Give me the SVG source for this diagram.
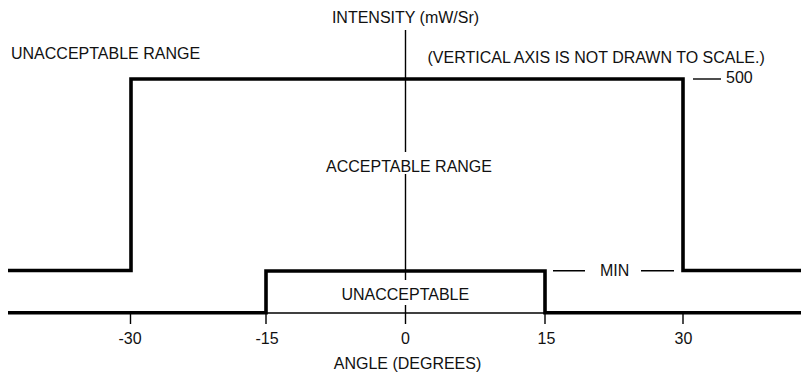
<svg xmlns="http://www.w3.org/2000/svg" width="801" height="373" viewBox="0 0 801 373">
<style>
text{font-family:"Liberation Sans",Arial,sans-serif;font-size:16px;fill:#111}
.thick{fill:none;stroke:#000;stroke-width:3.6;stroke-linejoin:miter;stroke-linecap:butt}
.thin{fill:none;stroke:#000;stroke-width:1.4}
.m{text-anchor:middle}
</style>
<rect width="801" height="373" fill="#fff"/>
<g id="axes">
<path class="thin" d="M8,313 H801"/>
<path class="thin" d="M405.5,30 V152 M405.5,174 V280 M405.5,305 V324"/>
<path class="thin" d="M130.5,313 V324 M266,313 V324 M545,313 V324 M683,313 V324"/>
</g>
<g id="upper-limit">
<path class="thick" d="M8,270.5 H131 V79 H683 V270.5 H801"/>
</g>
<g id="lower-limit">
<path class="thick" d="M8,312.7 H266 V271 H545 V312.7 H801"/>
</g>
<g id="markers">
<path class="thin" d="M693,79 H721"/>
<path class="thin" d="M553,270.7 H585 M641,270.7 H674"/>
</g>
<g id="labels">
<text class="m" x="405.5" y="22.5">INTENSITY (mW/Sr)</text>
<text x="11" y="59">UNACCEPTABLE RANGE</text>
<text x="427.5" y="63">(VERTICAL AXIS IS NOT DRAWN TO SCALE.)</text>
<text x="726" y="83">500</text>
<text class="m" x="409" y="172">ACCEPTABLE RANGE</text>
<text x="600" y="276">MIN</text>
<text class="m" x="405.3" y="300">UNACCEPTABLE</text>
<text class="m" x="130" y="344">-30</text>
<text class="m" x="267" y="344">-15</text>
<text class="m" x="405.5" y="344">0</text>
<text class="m" x="546.5" y="344">15</text>
<text class="m" x="683.5" y="344">30</text>
<text class="m" x="407.5" y="369">ANGLE (DEGREES)</text>
</g>
</svg>
